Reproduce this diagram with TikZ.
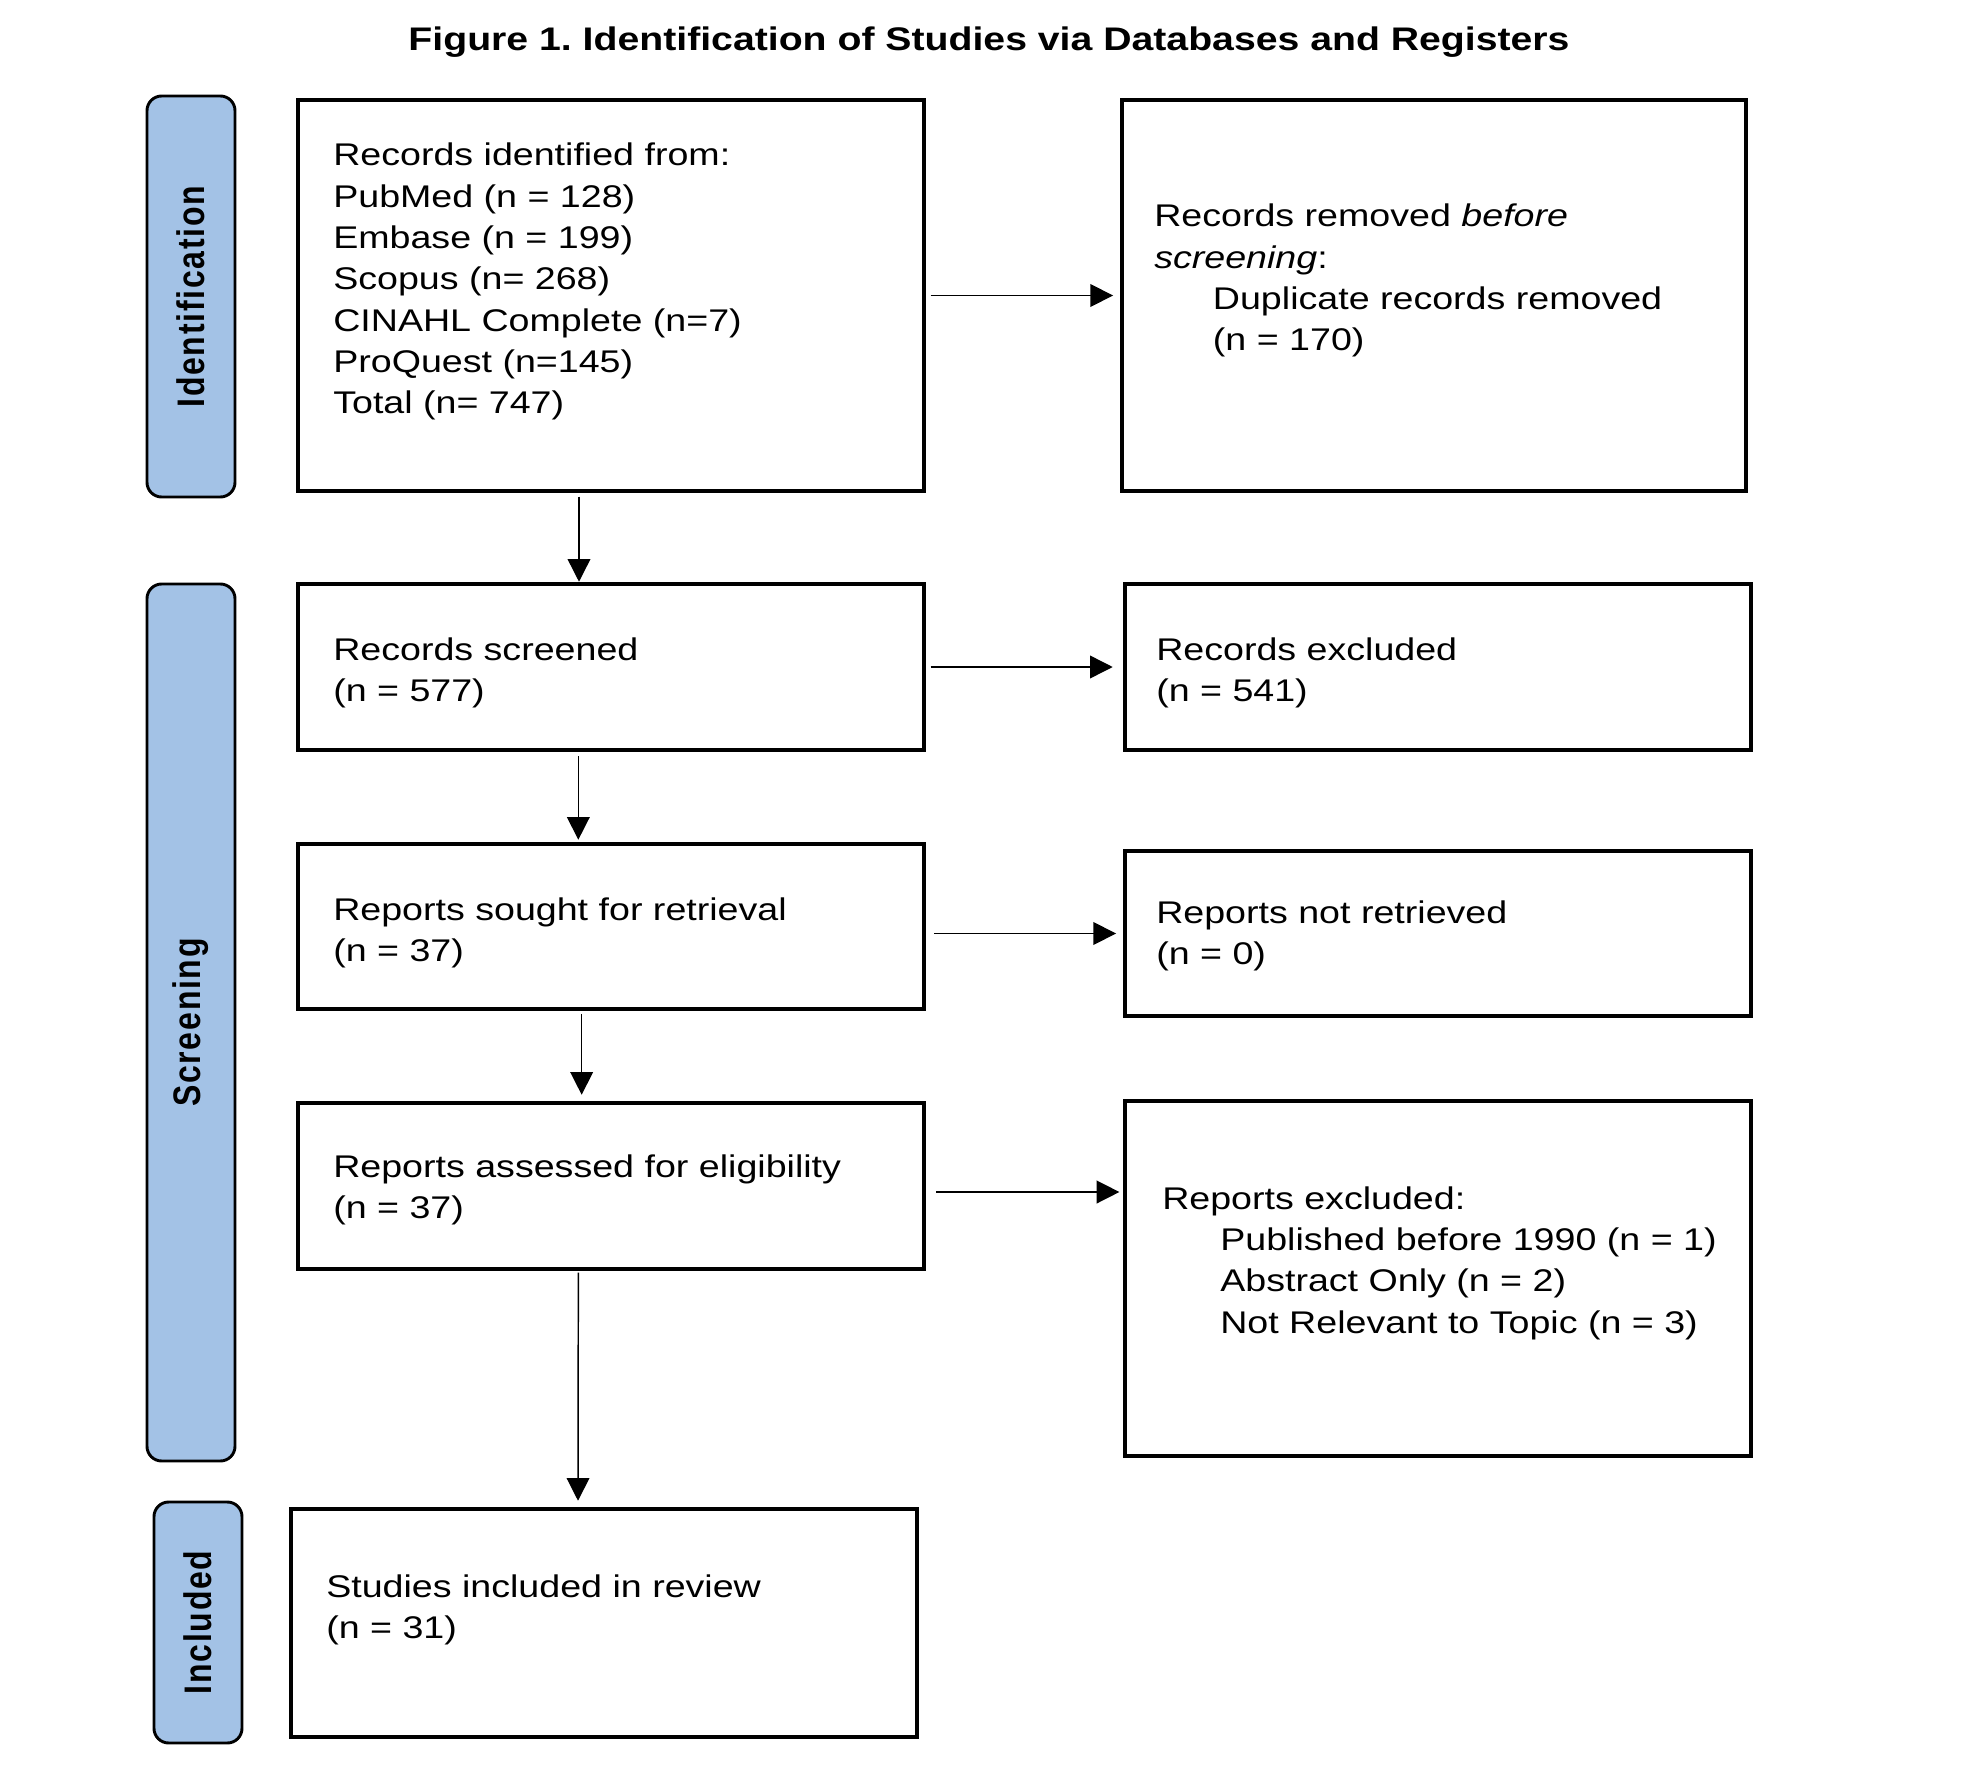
\documentclass[tikz,border=0pt]{standalone}
\usepackage{fontspec}
\setmainfont{Liberation Sans}[FakeStretch=1.2]
\newfontfamily\lblfont{Liberation Sans}[LetterSpace=5.5]
\usetikzlibrary{arrows.meta,fit}
\definecolor{lblblue}{RGB}{163,194,230}
\begin{document}
\begin{tikzpicture}[x=0.75pt,y=-0.75pt,
  box/.style={draw=black, line width=2.4pt, rectangle, inner sep=0pt},
  lbl/.style={draw=black, fill=lblblue, line width=2.2pt, rectangle, rounded corners=11pt, inner sep=0pt},
  lbltxt/.style={inner sep=0pt, font=\lblfont\bfseries\fontsize{24}{28}\selectfont},
  txt/.style={anchor=base west, inner sep=0pt, font=\fontsize{23.5}{31}\selectfont},
  ttl/.style={anchor=base, inner sep=0pt, font=\fontsize{24.5}{29}\selectfont\bfseries},
  arr/.style={-{Triangle[length=17pt,width=17pt]}, line width=1.1pt}]
\useasboundingbox (0,0) rectangle (1961,1773);
\fill[white] (0,0) rectangle (1961,1773);

% title
\node[ttl] (title) at (989,51) {Figure 1.\ Identification of Studies via Databases and Registers};

% phase labels
\node[lbl, fit={(147,96) (235,497)}] (lid) {};
\node[lbl, fit={(147,584) (235,1461)}] (lsc) {};
\node[lbl, fit={(154,1502) (242,1743)}] (lin) {};
\begin{scope}[shift={(lid.center)}, xscale=1.2, rotate=90]
  \node[lbltxt, transform shape] (lidt) at (0,0) {Identification};
\end{scope}
\begin{scope}[shift={(lsc.center)}, xscale=1.2, rotate=90]
  \node[lbltxt, transform shape] (lsct) at (0,0) {Screening};
\end{scope}
\begin{scope}[shift={(lin.center)}, xscale=1.2, rotate=90]
  \node[lbltxt, transform shape] (lint) at (0,0) {Included};
\end{scope}

% boxes
\node[box, fit={(298,100) (924,491)}] (b1) {};
\node[box, fit={(1122,100) (1746,491)}] (b2) {};
\node[box, fit={(298,584) (924,750)}] (b3) {};
\node[box, fit={(1125,584) (1751,750)}] (b4) {};
\node[box, fit={(298,844) (924,1009)}] (b5) {};
\node[box, fit={(1125,851) (1751,1016)}] (b6) {};
\node[box, fit={(298,1103) (924,1269)}] (b7) {};
\node[box, fit={(1125,1101) (1751,1456)}] (b8) {};
\node[box, fit={(291,1509) (917,1737)}] (b9) {};

% texts
\node[txt] (t1) at (333,166) {\parbox[t]{700pt}{Records identified from:\\PubMed (n = 128)\\Embase (n = 199)\\Scopus (n= 268)\\CINAHL Complete (n=7)\\ProQuest (n=145)\\Total (n= 747)}};
\node[txt] (t2) at (1154,227) {\parbox[t]{700pt}{Records removed \textit{before}\\\textit{screening}:\\\hspace*{44pt}Duplicate records removed\\\hspace*{44pt}(n = 170)}};
\node[txt] (t3) at (333,660) {\parbox[t]{700pt}{Records screened\\(n = 577)}};
\node[txt] (t4) at (1156,660) {\parbox[t]{700pt}{Records excluded\\(n = 541)}};
\node[txt] (t5) at (333,920) {\parbox[t]{700pt}{Reports sought for retrieval\\(n = 37)}};
\node[txt] (t6) at (1156,923) {\parbox[t]{700pt}{Reports not retrieved\\(n = 0)}};
\node[txt] (t7) at (333,1177) {\parbox[t]{700pt}{Reports assessed for eligibility\\(n = 37)}};
\node[txt] (t8) at (1162,1209) {\parbox[t]{700pt}{Reports excluded:\\\hspace*{43.5pt}Published before 1990 (n = 1)\\\hspace*{43.5pt}Abstract Only (n = 2)\\\hspace*{43.5pt}Not Relevant to Topic (n = 3)}};
\node[txt] (t9) at (326,1597) {\parbox[t]{700pt}{Studies included in review\\(n = 31)}};

% horizontal arrows
\coordinate (a7) at ([yshift=-4.5pt]b7.east);
\draw[arr] ([xshift=3.75pt]b1.east) -- ([xshift=-5.5pt]b2.west);
\draw[arr] ([xshift=3.75pt]b3.east) -- ([xshift=-8pt]b4.west);
\draw[arr] ([xshift=6.5pt]b5.east |- b6.west) -- ([xshift=-5.5pt]b6.west);
\draw[arr] ([xshift=8pt]a7) -- ([xshift=-3pt]b8.west |- a7);

% vertical arrows
\draw[arr] ([xshift=-24pt,yshift=-3pt]b1.south) -- ([xshift=-24pt,yshift=0.5pt]b3.north);
\draw[arr] ([xshift=-24.5pt,yshift=-3.5pt]b3.south) -- ([xshift=-24.5pt,yshift=2pt]b5.north);
\draw[arr] ([xshift=-22pt,yshift=-2.5pt]b5.south) -- ([xshift=-22pt,yshift=5pt]b7.north);
\draw[arr] ([xshift=-24.5pt,yshift=-1.5pt]b7.south) -- ([xshift=-19.5pt,yshift=5pt]b9.north);
\end{tikzpicture}
\end{document}
